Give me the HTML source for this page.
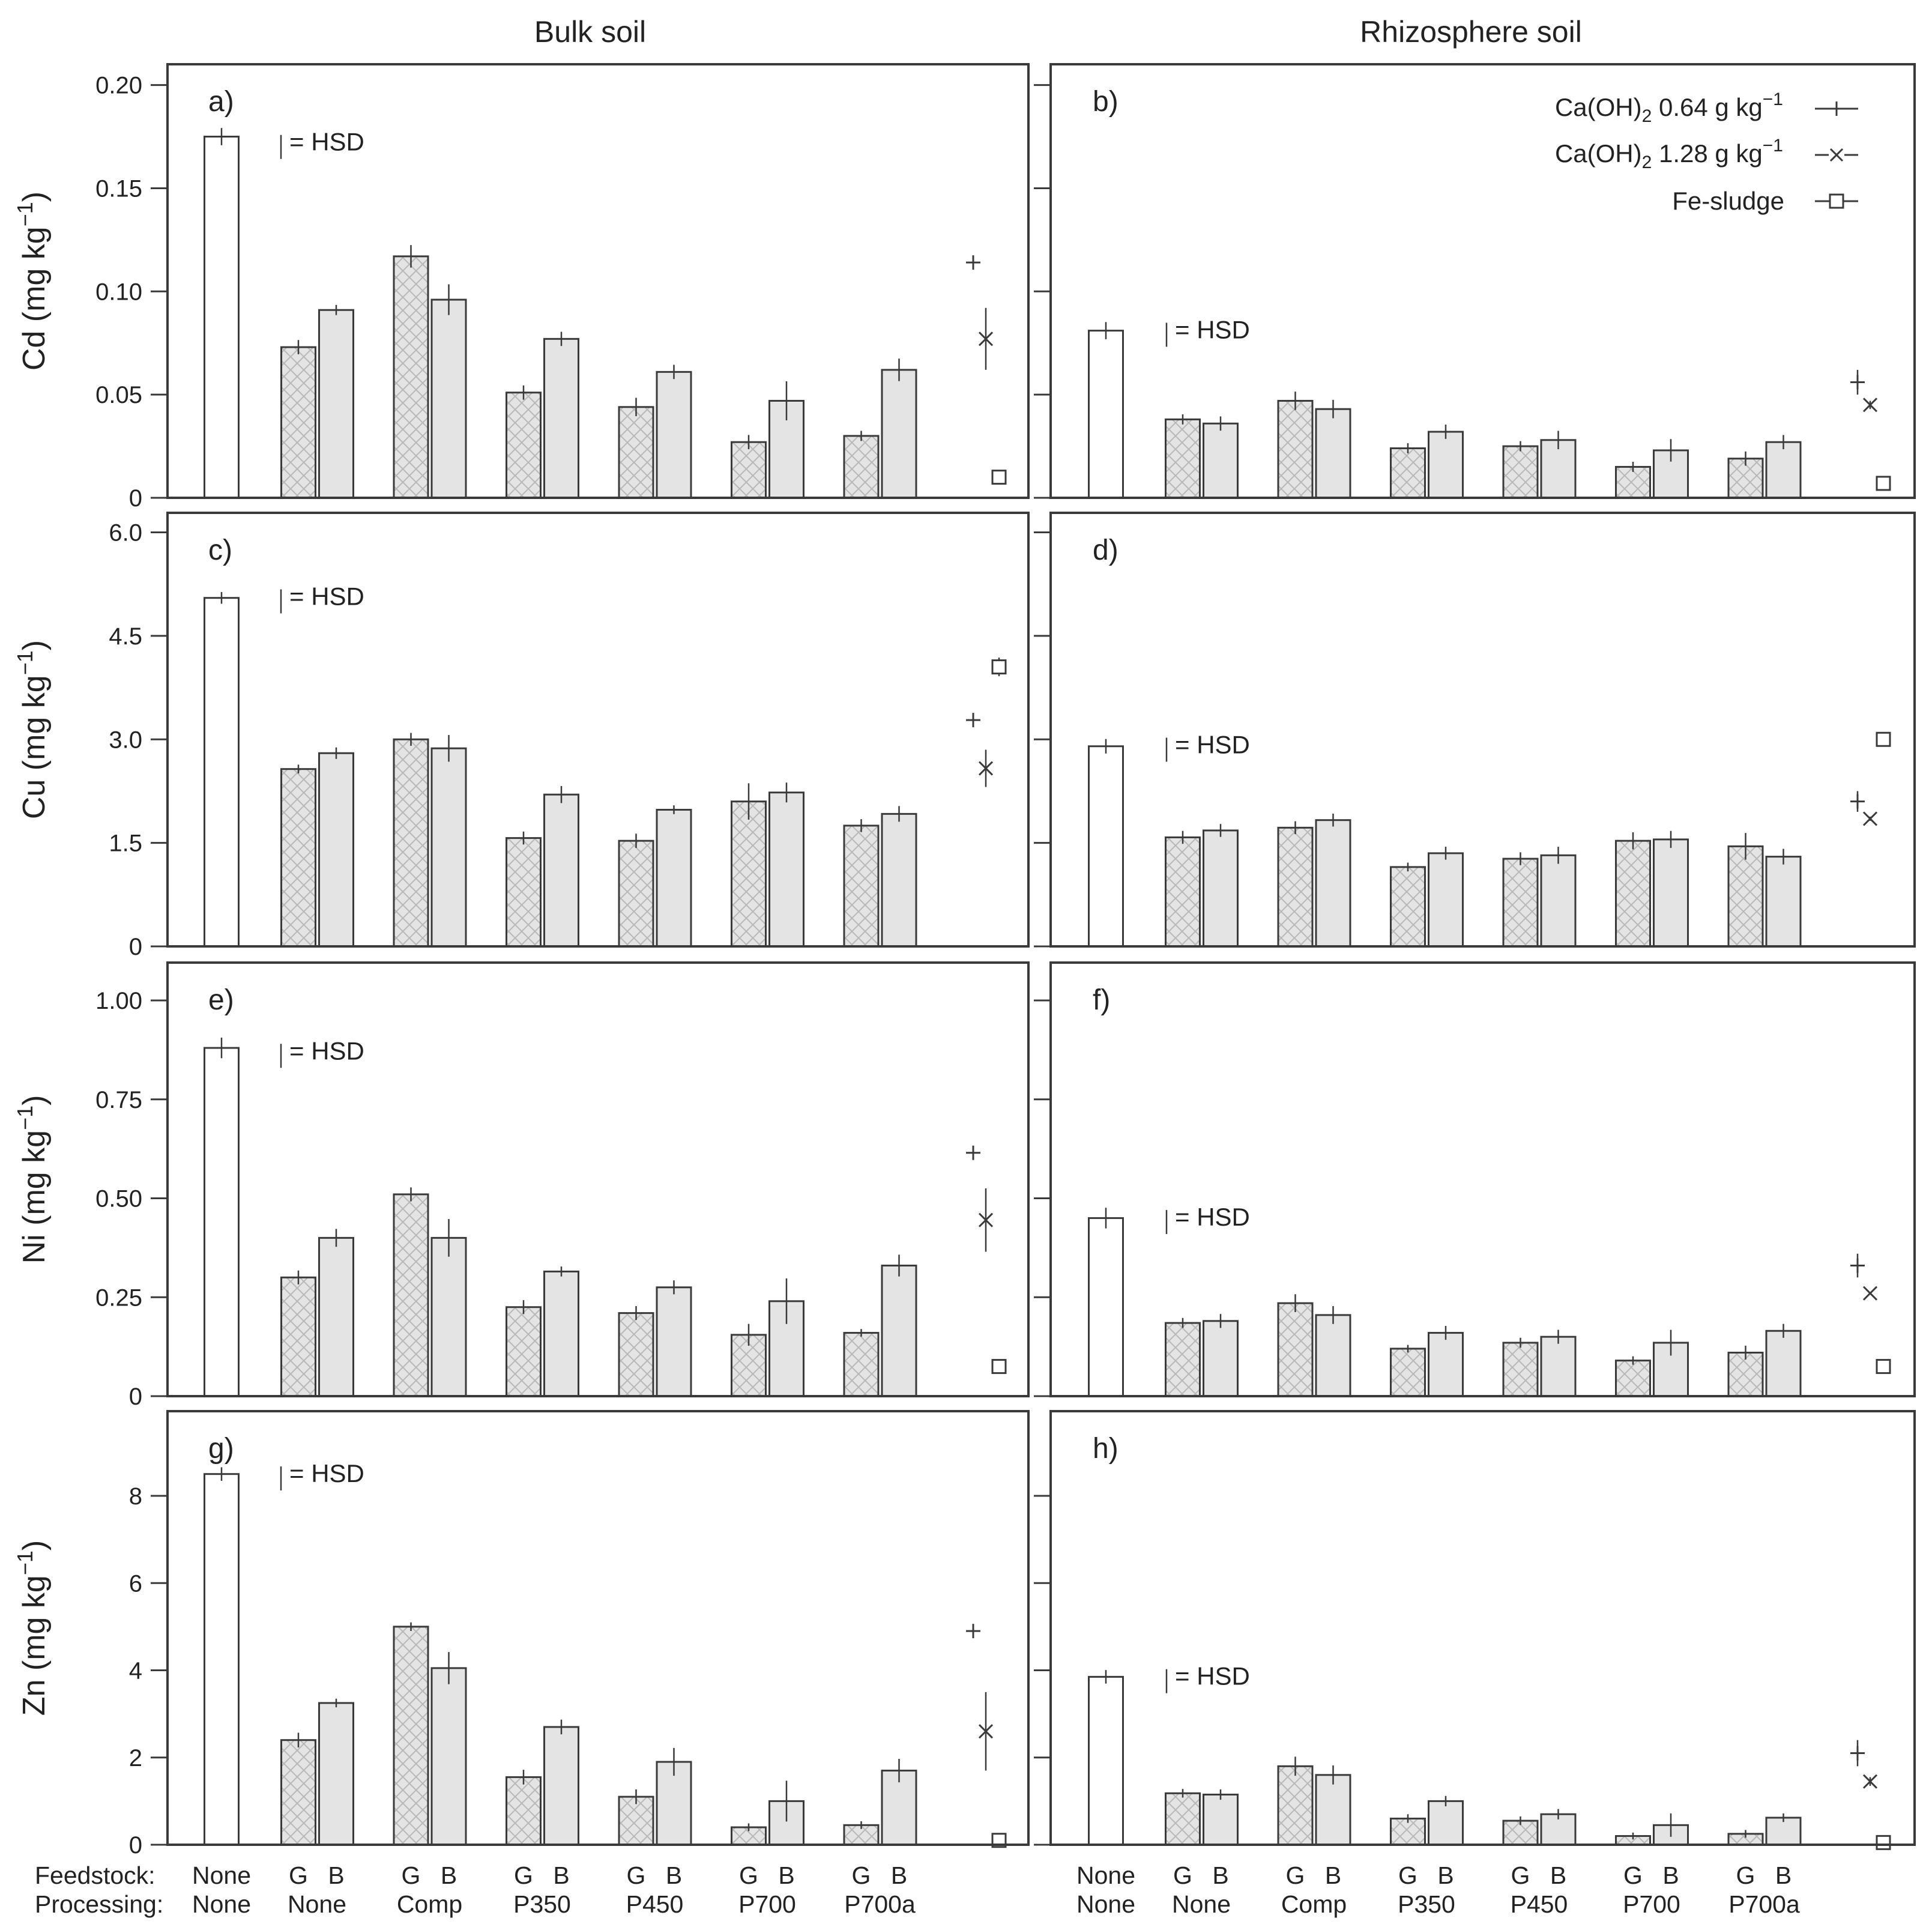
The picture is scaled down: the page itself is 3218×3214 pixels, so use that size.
<!DOCTYPE html>
<html><head><meta charset="utf-8"><style>
html,body{margin:0;padding:0;background:#fff;}
svg{display:block;font-family:"Liberation Sans",sans-serif;}
</style></head><body>
<svg id="chart" width="3218" height="3214" viewBox="0 0 3218 3214" xmlns="http://www.w3.org/2000/svg">
<defs>
<pattern id="hatch" patternUnits="userSpaceOnUse" width="22" height="22">
<rect width="22" height="22" fill="#e4e4e4"/>
<path d="M0,0 L22,22 M22,0 L0,22" stroke="#b8b8b8" stroke-width="2"/>
</pattern>
</defs>
<text x="983" y="70" font-size="50" text-anchor="middle" fill="#222">Bulk soil</text>
<text x="2450" y="70" font-size="50" text-anchor="middle" fill="#222">Rhizosphere soil</text>
<g id="plots"></g>
</svg>
<script>
// ---- data ----
const groups = ["None","None","Comp","P350","P450","P700","P700a"];
const metals = ["Cd","Cu","Ni","Zn"];
const tickVals = [[0,0.05,0.10,0.15,0.20],[0,1.5,3.0,4.5,6.0],[0,0.25,0.50,0.75,1.00],[0,2,4,6,8]];
const tickLabels = [["0","0.05","0.10","0.15","0.20"],["0","1.5","3.0","4.5","6.0"],["0","0.25","0.50","0.75","1.00"],["0","2","4","6","8"]];
const axisMax = [0.20,6.0,1.00,8];
const panelLetters = [["a)","b)"],["c)","d)"],["e)","f)"],["g)","h)"]];
const ctrlVal = [[0.175,0.081],[5.05,2.90],[0.88,0.45],[8.5,3.85]];
const ctrlErr = [[0.003,0.003],[0.05,0.07],[0.02,0.02],[0.1,0.1]];
const gVal = [
 [[0.073,0.117,0.051,0.044,0.027,0.030],[0.038,0.047,0.024,0.025,0.015,0.019]],
 [[2.57,3.00,1.57,1.53,2.10,1.75],[1.58,1.72,1.15,1.27,1.53,1.45]],
 [[0.30,0.51,0.225,0.21,0.155,0.16],[0.185,0.235,0.12,0.135,0.09,0.11]],
 [[2.4,5.0,1.55,1.1,0.4,0.45],[1.18,1.8,0.6,0.55,0.2,0.25]]];
const gErr = [
 [[0.002,0.004,0.002,0.003,0.002,0.001],[0.001,0.003,0.001,0.001,0.001,0.002]],
 [[0.02,0.05,0.05,0.06,0.22,0.05],[0.05,0.05,0.02,0.05,0.08,0.15]],
 [[0.01,0.01,0.01,0.01,0.02,0.002],[0.005,0.015,0.002,0.005,0.003,0.01]],
 [[0.1,0.03,0.1,0.1,0.02,0.02],[0.03,0.15,0.03,0.03,0.01,0.02]]];
const bVal = [
 [[0.091,0.096,0.077,0.061,0.047,0.062],[0.036,0.043,0.032,0.028,0.023,0.027]],
 [[2.80,2.87,2.20,1.98,2.23,1.92],[1.68,1.83,1.35,1.32,1.55,1.30]],
 [[0.40,0.40,0.315,0.275,0.24,0.33],[0.19,0.205,0.16,0.15,0.135,0.165]],
 [[3.25,4.05,2.7,1.9,1.0,1.7],[1.15,1.6,1.0,0.7,0.45,0.62]]];
const bErr = [
 [[0.001,0.006,0.002,0.002,0.008,0.004],[0.002,0.003,0.002,0.003,0.004,0.002]],
 [[0.04,0.15,0.08,0.02,0.1,0.07],[0.05,0.05,0.05,0.08,0.08,0.07]],
 [[0.015,0.04,0.005,0.01,0.05,0.02],[0.01,0.015,0.01,0.01,0.025,0.01]],
 [[0.03,0.3,0.1,0.25,0.4,0.2],[0.05,0.15,0.05,0.05,0.2,0.03]]];
const plusVal = [[0.114,0.056],[3.28,2.10],[0.615,0.33],[4.9,2.1]];
const plusErr = [[0,0.006],[0,0.15],[0,0.03],[0,0.3]];
const crossVal = [[0.077,0.045],[2.58,1.85],[0.445,0.26],[2.6,1.45]];
const crossErr = [[0.015,0.002],[0.27,0.03],[0.08,0],[0.9,0.1]];
const sqVal = [[0.010,0.007],[4.05,3.00],[0.075,0.075],[0.1,0.05]];
const sqErr = [[0,0],[0.1,0.07],[0,0],[0,0]];
const hsdCenter = [[0.170,0.079],[5.0,2.85],[0.86,0.44],[8.4,3.75]];

// ---- layout ----
const NS="http://www.w3.org/2000/svg";
const root=document.getElementById('plots');
const colX=[[279,1713],[1750,3189]];
const rowTop=[107,854,1603,2350];
const maxTickPix=[141.6,886.5,1666,2491];
const PH=722;
const bw=57;
function mk(tag,attrs,parent){const e=document.createElementNS(NS,tag);for(const k in attrs)e.setAttribute(k,attrs[k]);(parent||root).appendChild(e);return e;}
const dark="#3a3a3a";

for(let r=0;r<4;r++){
 const top=rowTop[r], y0=top+PH, yMaxPix=maxTickPix[r];
 const yS=v=> y0-(v/axisMax[r])*(y0-yMaxPix);
 for(let c=0;c<2;c++){
  const [L,R]=colX[c];
  const off=c===0?0:1473;
  const g=mk('g',{});
  
  
  tickVals[r].forEach((tv,i)=>{
   const y=yS(tv);
   const t=mk('line',{x1:L-28,x2:L,y1:y,y2:y,stroke:dark,'stroke-width':3},g);
   
   
   if(c===0){
    const tl=mk('text',{x:L-42,y:y+14,'font-size':40,'text-anchor':'end',fill:'#222'},g);
    tl.textContent=tickLabels[r][i];
    
    
   }
  });
  const cx=off+369;
  const cb=mk('rect',{x:cx-bw/2,y:yS(ctrlVal[r][c]),width:bw,height:y0-yS(ctrlVal[r][c]),fill:'#fff',stroke:dark,'stroke-width':3},g);
  
  
  mk('line',{x1:cx,x2:cx,y1:yS(ctrlVal[r][c]+ctrlErr[r][c])-4,y2:yS(ctrlVal[r][c]-ctrlErr[r][c])+4,stroke:dark,'stroke-width':2.5},g);
  for(let k=0;k<6;k++){
   const gc=off+497+k*187.5, bc=gc+63;
   const gv=gVal[r][c][k], bv=bVal[r][c][k];
   const gb=mk('rect',{x:gc-bw/2,y:yS(gv),width:bw,height:y0-yS(gv),fill:'url(#hatch)',stroke:dark,'stroke-width':3},g);
   
   
   const bb=mk('rect',{x:bc-bw/2,y:yS(bv),width:bw,height:y0-yS(bv),fill:'#e4e4e4',stroke:dark,'stroke-width':3},g);
   
   
   const ge=gErr[r][c][k], be=bErr[r][c][k];
   mk('line',{x1:gc,x2:gc,y1:yS(gv+ge)-5,y2:yS(gv-ge)+5,stroke:dark,'stroke-width':2.5},g);
   mk('line',{x1:bc,x2:bc,y1:yS(bv+be)-5,y2:yS(bv-be)+5,stroke:dark,'stroke-width':2.5},g);
  }
  const px=off+1621, xx=off+1642, sx=off+1664;
  let y=yS(plusVal[r][c]);
  mk('path',{d:`M${px-12},${y}H${px+12}M${px},${y-12}V${y+12}`,stroke:dark,'stroke-width':3},g);
  if(plusErr[r][c]>0) mk('line',{x1:px,x2:px,y1:yS(plusVal[r][c]+plusErr[r][c]),y2:yS(plusVal[r][c]-plusErr[r][c]),stroke:dark,'stroke-width':2.5},g);
  y=yS(crossVal[r][c]);
  mk('path',{d:`M${xx-11},${y-11}L${xx+11},${y+11}M${xx+11},${y-11}L${xx-11},${y+11}`,stroke:dark,'stroke-width':3},g);
  if(crossErr[r][c]>0) mk('line',{x1:xx,x2:xx,y1:yS(crossVal[r][c]+crossErr[r][c]),y2:yS(crossVal[r][c]-crossErr[r][c]),stroke:dark,'stroke-width':2.5},g);
  y=yS(sqVal[r][c]);
  if(sqErr[r][c]>0) mk('line',{x1:sx,x2:sx,y1:yS(sqVal[r][c]+sqErr[r][c])-4,y2:yS(sqVal[r][c]-sqErr[r][c])+4,stroke:dark,'stroke-width':2.5},g);
  mk('rect',{x:sx-11,y:y-11,width:22,height:22,fill:'#fff',stroke:dark,'stroke-width':3},g);
  const fr=mk('rect',{x:L,y:top,width:R-L,height:PH,fill:'none',stroke:dark,'stroke-width':4},g);
  
  
  const lt=mk('text',{x:off+347,y:top+78,'font-size':48,fill:'#222'},g);
  lt.textContent=panelLetters[r][c];
  
  
  const hx=off+468+(c===1?2:0), hc=yS(hsdCenter[r][c]);
  mk('line',{x1:hx,x2:hx,y1:hc-20,y2:hc+20,stroke:dark,'stroke-width':2.5},g);
  const ht=mk('text',{x:hx+14,y:hc+6,'font-size':42,fill:'#222'},g);
  ht.textContent='= HSD';
  
  
 }
 const yt=mk('text',{'font-size':52,fill:'#222','text-anchor':'middle',transform:`translate(74,${top+PH/2}) rotate(-90)`});
 yt.innerHTML=metals[r]+' (mg kg<tspan dy="-20" font-size="36">−1</tspan><tspan dy="20">)</tspan>';
 
 
}
const legLabels=[['Ca(OH)','0.64'],['Ca(OH)','1.28']];
const legY=[181,258,335];
for(let i=0;i<2;i++){
 const t=mk('text',{x:2970,y:legY[i]+12,'font-size':42,'text-anchor':'end',fill:'#222'});
 t.innerHTML=legLabels[i][0]+'<tspan dy="10" font-size="30">2</tspan><tspan dy="-10"> '+legLabels[i][1]+' g kg</tspan><tspan dy="-18" font-size="30">−1</tspan>';
 
 
}
const t3=mk('text',{x:2972,y:legY[2]+14,'font-size':42,'text-anchor':'end',fill:'#222'});
t3.textContent='Fe-sludge';


const lx=3059;
mk('path',{d:`M${lx-36},${legY[0]}H${lx+36}M${lx},${legY[0]-12}V${legY[0]+12}`,stroke:dark,'stroke-width':3});
mk('path',{d:`M${lx-36},${legY[1]}H${lx-13}M${lx+13},${legY[1]}H${lx+36}M${lx-10},${legY[1]-10}L${lx+10},${legY[1]+10}M${lx+10},${legY[1]-10}L${lx-10},${legY[1]+10}`,stroke:dark,'stroke-width':3});
mk('path',{d:`M${lx-36},${legY[2]}H${lx-11}M${lx+11},${legY[2]}H${lx+36}`,stroke:dark,'stroke-width':3});
mk('rect',{x:lx-11,y:legY[2]-11,width:22,height:22,fill:'#fff',stroke:dark,'stroke-width':3});
function lab(txt,x,y,anchor,name){const t=mk('text',{x:x,y:y,'font-size':41,'text-anchor':anchor,fill:'#222'});t.textContent=txt;}
lab('Feedstock:',58,3137,'start','feedstock-label');
lab('Processing:',58,3185,'start','processing-label');
for(let c=0;c<2;c++){
 const off=c===0?0:1473;
 lab('None',off+369,3137,'middle','feedstock-tick');
 lab('None',off+369,3185,'middle','processing-tick');
 for(let k=0;k<6;k++){
  const gc=off+497+k*187.5;
  lab('G',gc,3137,'middle','feedstock-tick');
  lab('B',gc+63,3137,'middle','feedstock-tick');
  lab(groups[k+1],gc+31,3185,'middle','processing-tick');
 }
}
</script>
</body></html>
